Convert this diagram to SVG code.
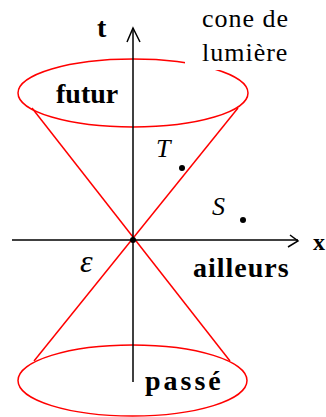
<svg xmlns="http://www.w3.org/2000/svg" width="326" height="417" viewBox="0 0 326 417">
<style>
.cone{fill:none;stroke:#ff0000;stroke-width:1.5}
.axis{fill:none;stroke:#000;stroke-width:1.5}
.b{font-family:"Liberation Serif",serif;font-weight:bold;fill:#000}
.r{font-family:"Liberation Serif",serif;fill:#000}
.i{font-family:"Liberation Serif",serif;font-style:italic;fill:#000}
</style>
<rect width="326" height="417" fill="#fff"/>
<g id="cone">
<ellipse class="cone" cx="133" cy="93" rx="115" ry="34"/>
<ellipse class="cone" cx="132.5" cy="380.5" rx="114.5" ry="35.5"/>
<line class="cone" x1="32" y1="108" x2="230" y2="361"/>
<line class="cone" x1="238" y1="108" x2="34" y2="361"/>
</g>
<g id="label-cone">
<rect x="185" y="0" width="115" height="70" fill="#fff"/>
<text class="r" x="202" y="27" font-size="26" letter-spacing="1">cone de</text>
<text class="r" x="202" y="61" font-size="26" letter-spacing="1">lumière</text>
</g>
<g id="connectors">
<line class="axis" x1="133" y1="28" x2="133" y2="382"/>
<polyline class="axis" points="127,42 133,28 140,42"/>
<line class="axis" x1="12" y1="240" x2="298" y2="240"/>
<polyline class="axis" points="290,235 298,241 288,247"/>
</g>
<g id="origin"><circle cx="133" cy="240" r="3" fill="#000"/></g>
<g id="point-T">
<text class="i" x="156" y="157" font-size="26">T</text>
<circle cx="182" cy="168" r="3" fill="#000"/>
</g>
<g id="point-S">
<text class="i" x="212" y="215" font-size="26">S</text>
<circle cx="243" cy="220" r="3" fill="#000"/>
</g>
<g id="labels">
<text class="b" x="97" y="37" font-size="28">t</text>
<text class="b" x="313" y="250" font-size="24">x</text>
<text class="b" x="56" y="103" font-size="28">futur</text>
<text class="b" x="193" y="277" font-size="28" letter-spacing="1">ailleurs</text>
<text class="b" x="145" y="390" font-size="28" letter-spacing="3">passé</text>
<text class="i" x="80" y="272" font-size="32">ε</text>
</g>
</svg>
